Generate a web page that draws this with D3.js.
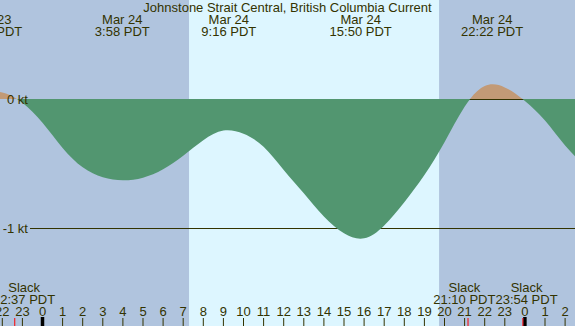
<!DOCTYPE html>
<html>
<head>
  <meta charset="utf-8">
  <title>Johnstone Strait Central current</title>
  <script src="https://d3js.org/d3.v7.min.js"></script>
  <style>
    body { margin: 0; padding: 0; background: #fff; }
    svg { display: block; font-family: "Liberation Sans", Arial, sans-serif; }
    text { fill: #333300; font-size: 13px; }
  </style>
</head>
<body>
<div id="chart"></div>
<script>
  // hours are counted from Mar 24 00:00 PDT (negative = Mar 23)
  var title = "Johnstone Strait Central, British Columbia Current";

  // current speed (kt), hourly
  var currentHours = [-3, -2, -1, 0, 1, 2, 3, 4, 5, 6, 7, 8, 9, 10, 11, 12, 13, 14, 15,
                      16, 17, 18, 19, 20, 21, 22, 23, 24, 25, 26, 27];
  var currentKt = [0.055, 0.05, -0.03, -0.185, -0.38, -0.53, -0.607, -0.63, -0.61, -0.545, -0.44,
                   -0.32, -0.245, -0.27, -0.37, -0.55, -0.73, -0.91, -1.04, -1.08, -0.98,
                   -0.80, -0.59, -0.335, -0.06, 0.10, 0.09, -0.015, -0.167, -0.36, -0.52];

  // max flood / max ebb labels at the top
  var eventHours = [-2.55, 3.97, 9.27, 15.83, 22.37];
  var eventDates = ["Mar 23", "Mar 24", "Mar 24", "Mar 24", "Mar 24"];
  var eventTimes = ["21:27 PDT", "3:58 PDT", "9:16 PDT", "15:50 PDT", "22:22 PDT"];

  // slack water
  var slackHours = [-1.38, 21.17, 23.9];
  var slackTimes = ["22:37 PDT", "21:10 PDT", "23:54 PDT"];

  // daylight
  var sunrise = 7.29, sunset = 19.73;

  // hour axis
  var tickHours = [-2, -1, 0, 1, 2, 3, 4, 5, 6, 7, 8, 9, 10, 11, 12, 13, 14, 15, 16, 17,
                   18, 19, 20, 21, 22, 23, 24, 25, 26];
  var tickLabels = ["22", "23", "0", "1", "2", "3", "4", "5", "6", "7", "8", "9", "10", "11",
                    "12", "13", "14", "15", "16", "17", "18", "19", "20", "21", "22", "23",
                    "0", "1", "2"];

  var yTicks = [0, -1];
  var yTickLabels = ["0 kt", "-1 kt"];

  var width = 575, height = 326;

  var x = d3.scaleLinear().domain([0, 24]).range([42.5, 524.9]);
  var y = d3.scaleLinear().domain([0, -1]).range([99, 228]);

  var svg = d3.select("#chart").append("svg")
      .attr("width", width)
      .attr("height", height);

  // night background, then day band
  svg.append("rect")
      .attr("width", width).attr("height", height)
      .attr("fill", "#b0c4de");
  svg.append("rect")
      .attr("x", x(sunrise)).attr("y", 0)
      .attr("width", x(sunset) - x(sunrise)).attr("height", height)
      .attr("fill", "#ddf6ff");

  var data = currentHours.map(function(h, i) { return { h: h, v: currentKt[i] }; });

  var defs = svg.append("defs");
  defs.append("clipPath").attr("id", "above")
    .append("rect").attr("x", 0).attr("y", 0).attr("width", width).attr("height", y(0));
  defs.append("clipPath").attr("id", "below")
    .append("rect").attr("x", 0).attr("y", y(0)).attr("width", width).attr("height", height - y(0));

  // level lines
  svg.selectAll("line.level")
    .data(yTicks)
    .enter().append("line")
      .attr("class", "level")
      .attr("x1", 30).attr("x2", width)
      .attr("y1", function(d) { return y(d) + 0.5; })
      .attr("y2", function(d) { return y(d) + 0.5; })
      .attr("stroke", "#333300")
      .attr("stroke-width", 1);

  var area = d3.area()
      .curve(d3.curveNatural)
      .x(function(d) { return x(d.h); })
      .y0(y(0))
      .y1(function(d) { return y(d.v); });

  svg.append("path")
      .datum(data)
      .attr("clip-path", "url(#above)")
      .attr("fill", "#c29a76")
      .attr("d", area);

  svg.append("path")
      .datum(data)
      .attr("clip-path", "url(#below)")
      .attr("fill", "#529670")
      .attr("d", area);

  // y labels
  svg.selectAll("text.ylab")
    .data(yTicks)
    .enter().append("text")
      .attr("class", "ylab")
      .attr("x", 28)
      .attr("y", function(d) { return y(d) + 5; })
      .attr("text-anchor", "end")
      .text(function(d, i) { return yTickLabels[i]; });

  // title and event labels
  svg.append("text")
      .attr("x", width / 2).attr("y", 12)
      .attr("text-anchor", "middle")
      .text(title);

  var ev = svg.selectAll("g.event")
    .data(eventHours)
    .enter().append("g")
      .attr("class", "event")
      .attr("transform", function(d) { return "translate(" + x(d) + ",0)"; });
  ev.append("text").attr("y", 24).attr("text-anchor", "middle")
      .text(function(d, i) { return eventDates[i]; });
  ev.append("text").attr("y", 36).attr("text-anchor", "middle")
      .text(function(d, i) { return eventTimes[i]; });

  // hour ticks and labels
  svg.selectAll("line.hour")
    .data(tickHours)
    .enter().append("line")
      .attr("class", "hour")
      .attr("x1", function(d) { return x(d); })
      .attr("x2", function(d) { return x(d); })
      .attr("y1", function(d) { return d % 24 === 0 ? 317 : 318; })
      .attr("y2", height)
      .attr("stroke", function(d) { return d % 24 === 0 ? "#000" : "#333300"; })
      .attr("stroke-width", function(d) { return d % 24 === 0 ? 3.5 : 1; });

  svg.selectAll("text.hour")
    .data(tickHours)
    .enter().append("text")
      .attr("class", "hour")
      .attr("x", function(d) { return x(d); })
      .attr("y", 316)
      .attr("text-anchor", "middle")
      .text(function(d, i) { return tickLabels[i]; });

  // slack ticks
  svg.selectAll("line.slack")
    .data(slackHours)
    .enter().append("line")
      .attr("class", "slack")
      .attr("x1", function(d) { return x(d); })
      .attr("x2", function(d) { return x(d); })
      .attr("y1", 318).attr("y2", height)
      .attr("stroke", "#ff0000")
      .attr("stroke-width", 1);

  // slack labels: keep on screen and push apart when they overlap
  var slackG = svg.selectAll("g.slack")
    .data(slackHours)
    .enter().append("g")
      .attr("class", "slack");
  slackG.append("text").attr("y", 292).attr("text-anchor", "middle").text("Slack");
  slackG.append("text").attr("y", 304).attr("text-anchor", "middle")
      .text(function(d, i) { return slackTimes[i]; });

  var pos = [];
  slackG.each(function(d) {
    var w = this.getBBox().width;
    pos.push({ cx: x(d), w: w });
  });
  pos.forEach(function(p) { p.cx = Math.max(p.cx, p.w / 2 - 7); });
  for (var i = 1; i < pos.length; i++) {
    var a = pos[i - 1], b = pos[i];
    var overlap = (a.cx + a.w / 2) - (b.cx - b.w / 2);
    if (overlap > 0) {
      a.cx -= overlap / 2;
      b.cx += overlap / 2;
    }
  }
  slackG.attr("transform", function(d, i) { return "translate(" + pos[i].cx + ",0)"; });
</script>
</body>
</html>
